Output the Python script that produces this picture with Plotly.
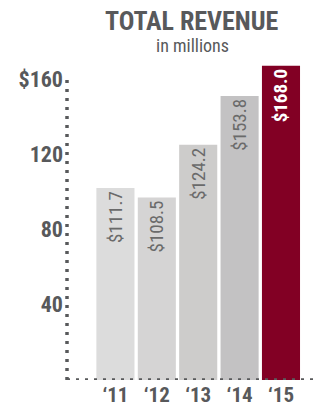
import plotly.graph_objects as go

years = ["‘11", "‘12", "‘13", "‘14", "‘15"]
revenue = [111.7, 108.5, 124.2, 153.8, 168.0]          # labelled values
bar_heights = [102, 97, 125, 151, 167]                 # heights as drawn in the reference
bar_colors = ["#dcdcdc", "#d5d4d4", "#cdcccb", "#c3c2c3", "#820024"]
label_colors = ["#6a6a6a", "#6a6a6a", "#6a6a6a", "#6a6a6a", "#ffffff"]
y_ticks = [40, 80, 120, 160]
y_ticktext = ["40", "80", "120", "$160"]

FONT = "Roboto Condensed, Roboto, sans-serif"
GRAY = "#58595b"

labels = []
for i, v in enumerate(revenue):
    t = f"${v:.1f}"
    if i == len(revenue) - 1:
        t = f"<b>{t}</b>"
    labels.append(t)

fig = go.Figure(go.Bar(
    x=list(range(len(years))),
    y=bar_heights,
    marker=dict(color=bar_colors, line=dict(width=0)),
    text=labels,
    textposition="inside",
    insidetextanchor="end",
    textangle=-90,
    textfont=dict(family=FONT, size=19, color=label_colors),
    hoverinfo="skip",
))

fig.update_layout(
    width=325, height=409,
    margin=dict(l=67, r=8, t=63, b=29),
    paper_bgcolor="white", plot_bgcolor="white",
    showlegend=False,
    bargap=0.08,
    xaxis=dict(range=[-1.17, 4.87], tickvals=list(range(len(years))), ticktext=years,
               showgrid=False, zeroline=False, showline=False, ticks="",
               ticklabelstandoff=0, automargin=False,
               tickfont=dict(family=FONT, size=21, color=GRAY, weight="bold"), fixedrange=True),
    yaxis=dict(range=[0, 168.5], tickvals=y_ticks, ticktext=y_ticktext,
               showgrid=False, zeroline=False, showline=False, ticks="",
               ticklabelstandoff=3, automargin=False,
               tickfont=dict(family=FONT, size=22, color=GRAY, weight="bold"), fixedrange=True),
    shapes=[
        dict(type="line", xref="paper", yref="y", x0=0, x1=0, y0=0, y1=y_ticks[-1],
             line=dict(color=GRAY, width=3.5, dash="3px,6px")),
        dict(type="line", xref="paper", yref="y", x0=0, x1=1, y0=0, y1=0,
             line=dict(color=GRAY, width=3.5, dash="3px,6px")),
    ],
    annotations=[
        dict(text="<b>TOTAL REVENUE</b>", xref="paper", yref="paper", x=0.5, y=1,
             xanchor="center", yanchor="bottom", yshift=25, showarrow=False,
             font=dict(family=FONT, size=26, color=GRAY)),
        dict(text="in millions", xref="paper", yref="paper", x=0.5, y=1,
             xanchor="center", yanchor="bottom", yshift=5, showarrow=False,
             font=dict(family=FONT, size=18, color=GRAY)),
    ],
)

fig.write_html("out.html")
